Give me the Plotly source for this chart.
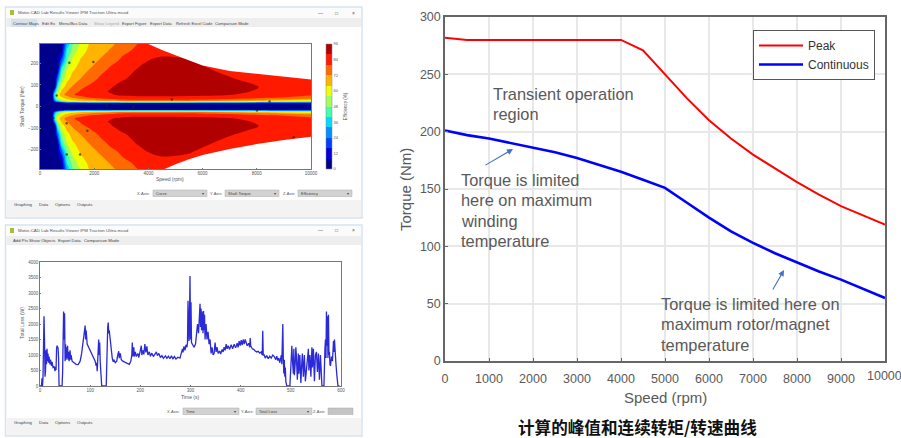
import plotly.graph_objects as go

W, H = 901, 438

# ---------- main chart data ----------
peak_speed = [0, 500, 1000, 2000, 3000, 4000, 4500, 5000, 5500, 6000, 6500, 7000, 7500, 8000, 8500, 9000, 9500, 10000]
peak_torque = [282, 280, 280, 280, 280, 280, 271, 250, 229, 210, 194, 180, 168, 156, 145, 135, 127, 119]
cont_speed = [0, 500, 1000, 1500, 2000, 2500, 3000, 3500, 4000, 4500, 5000, 5500, 6000, 6500, 7000, 7500, 8000, 8500, 9000, 9500, 10000]
cont_torque = [201, 197, 194, 190, 186, 182, 177, 171, 165, 158, 151, 138, 125, 113, 103, 94, 86, 78, 71, 63, 55]

# ---------- efficiency map data ----------
map_speed = [0, 450, 550, 650, 800, 1000, 1200, 1500, 1800, 2200, 2600, 3000, 3600, 4500, 5500, 6500, 7500, 8500, 10000]
map_torque = [0, 16, 21, 26, 32, 42, 55, 70, 90, 130, 170, 210, 235, 260, 290]
map_eff = [
    [2, 2, 2, 2, 2, 2, 2, 2, 2, 2, 2, 2, 2, 2, 2, 2, 2, 2, 2],
    [2, 3, 3, 3, 3, 3, 3, 3, 3, 3, 3, 3, 3, 3, 3, 3, 3, 3, 3],
    [2, 3, 10, 20, 30, 40, 45, 48, 50, 52, 54, 56, 57, 57, 56, 54, 50, 45, 40],
    [2, 3, 25, 40, 50, 56, 60, 63, 65, 68, 70, 72, 73, 73, 72, 71, 68, 63, 58],
    [2, 4, 35, 50, 58, 63, 67, 70, 72, 75, 78, 80, 81, 81, 80.5, 79, 77, 73, 68],
    [2, 6, 40, 56, 63, 69, 73, 77, 80, 83, 85, 86, 86.5, 86.5, 86, 85, 83, 81, 77],
    [2, 6, 45, 60, 69, 75, 79, 83, 85, 86.5, 87.5, 89, 90, 90, 90, 89.5, 87, 84, 81.5],
    [2, 5, 30, 54, 66, 72, 76, 81, 83.5, 86.5, 88.5, 90, 91, 92, 92, 91, 89, 85, 82],
    [2, 4, 8, 44, 60, 68, 73, 78, 81.5, 85, 87.5, 90, 91.5, 93, 93, 92, 90, 86.5, 83],
    [2, 3, 5, 24, 50, 61.5, 66.6, 72, 75, 81, 84, 87, 90, 92, 92, 90, 87, 84, 81],
    [2, 3, 5, 7, 42, 56, 63, 67, 72, 77, 81.5, 84.5, 88.5, 91, 91, 87.5, 84, 83, 81],
    [2, 3, 4, 6, 23, 48, 58, 65, 68, 73, 78, 81, 86, 91, 88.5, 85, 83, 82, 81],
    [2, 3, 4, 6, 13, 44, 55, 63, 66.6, 70.6, 75, 79.6, 84, 87.5, 87, 84, 83, 82, 81],
    [2, 3, 4, 5, 7, 41, 51, 60.6, 65.3, 69, 72.6, 77, 82, 86, 86, 84, 83, 82, 81],
    [2, 3, 4, 5, 6, 32, 47, 58, 64, 67, 70.5, 74, 80, 86, 86, 84, 83, 82, 81],
]
upper_env_speed = [4000, 4500, 5000, 6000, 7000, 8000, 9000, 10000]
upper_env_torque = [290, 262, 238, 190, 165, 152, 140, 125]
lower_env_speed = [4600, 5000, 5500, 6000, 7000, 8000, 9000, 10000]
lower_env_torque = [-290, -268, -245, -225, -197, -174, -155, -140]
dot_speed = [677, 1084, 1970, 616, 493, 985, 1749, 985, 1478, 2463, 3448, 4865, 8005, 8473, 9360]
dot_torque = [198, 203, 206, 51, -53, -78, -112, -223, -223, 5, -3, 33, -19, 23, -143]
band_colors = ["#00008c", "#0000dc", "#0040ff", "#0090ff", "#00dcff", "#40ffb0",
               "#a0ff60", "#f0ff00", "#ffb400", "#ff6a00", "#ff1a00", "#b00000"]

# ---------- loss trace data ----------
loss_trace = [
 (0,0),(3,0),(4,250),(5,0),(6,300),(7,1400),(8,2250),(9,1500),(10,300),(11,500),(12,1150),(13,700),(14,1200),(15,800),(16,1050),(17,750),(18,950),(20,700),(21,850),(23,650),(24,780),(26,600),(28,620),(30,480),(31,620),(32,520),(33,1200),(34,1300),(36,1220),(37,900),(38,0),(44,0),(45,400),(46,1400),(47,2400),(48,1500),(49,2350),(50,800),(51,1350),(52,850),(53,1250),(54,900),(55,1300),(56,850),(57,1100),(58,800),(60,1150),(61,850),(62,1000),(64,800),(68,750),(72,700),(76,690),(80,800),(83,1050),(86,1400),(88,1800),(90,1950),(91,1500),(92,1800),(94,1350),(96,1280),(100,1100),(103,1050),(106,900),(110,800),(112,650),(113,750),(114,480),(115,800),(117,1500),(118,1000),(119,1400),(120,800),(122,350),(123,0),(132,0),(133,900),(135,1900),(136,2050),(137,1700),(138,1800),(140,1500),(142,1100),(144,900),(146,780),(147,850),(150,750),(153,800),(155,1000),(157,1120),(158,900),(160,1050),(162,850),(165,800),(170,760),(175,720),(178,700),(181,800),(183,1000),(184,1400),(185,950),(187,1250),(188,950),(190,1100),(192,950),(195,1050),(197,920),(200,1150),(202,1300),(203,1000),(205,1150),(207,1020),(209,1350),(211,1080),(213,1280),(215,1000),(218,1100),(220,960),(223,1060),(226,950),(229,1020),(232,1100),(234,980),(237,1050),(240,920),(243,980),(246,890),(250,970),(253,890),(256,960),(259,880),(262,970),(265,880),(268,950),(271,870),(275,930),(279,900),(282,1050),(284,1200),(285,1080),(287,1280),(289,1150),(291,1330),(293,1250),(294,1400),(295,2750),(296,1500),(296.5,2600),(297,1450),(298,2200),(299,3550),(300,1500),(301,2700),(302,1400),(304,1350),(307,1250),(310,1350),(312,1800),(314,2000),(316,1700),(318,2600),(319,2650),(320,1900),(321,2500),(322,1800),(323,2400),(325,1700),(326,2420),(327,1800),(328,2300),(329,1500),(331,2000),(333,1500),(335,1750),(337,1350),(339,1500),(341,1050),(343,1250),(345,1000),(347,1050),(349,1400),(351,1100),(353,1250),(355,1050),(358,1130),(360,1030),(363,1180),(365,1100),(367,1250),(369,1150),(371,1350),(373,1200),(375,1300),(378,1180),(381,1330),(384,1200),(387,1350),(390,1230),(393,1380),(395,1250),(397,1450),(399,1300),(401,1480),(403,1320),(405,1500),(407,1350),(409,1500),(411,1350),(413,1300),(416,1380),(418,1250),(419,1550),(420,1300),(423,1200),(426,1180),(429,1130),(432,1100),(435,1120),(438,1060),(441,1100),(443,1000),(444,1780),(445,1000),(447,1000),(449,900),(452,980),(455,880),(458,960),(461,900),(464,1000),(467,950),(470,850),(472,960),(474,820),(476,900),(478,750),(480,950),(481,1000),(482,700),(483,1500),(484,2000),(485,900),(486,400),(487,850),(488,300),(489,600),(490,150),(492,0),(498,0),(500,600),(502,1300),(503,900),(505,400),(506,1200),(507,350),(509,800),(510,1250),(511,1000),(513,200),(515,1050),(516,400),(518,1000),(520,100),(522,800),(523,1050),(525,300),(527,1000),(529,150),(531,700),(533,850),(535,1200),(536,500),(538,1000),(540,300),(542,1250),(543,600),(545,1200),(547,150),(549,1000),(551,1100),(553,450),(555,1050),(557,200),(559,1000),(562,0),(566,0),(568,1200),(569,1500),(570,900),(571,2400),(572,1300),(573,2250),(574,900),(575,2300),(576,1000),(577,1100),(578,700),(579,650),(581,950),(583,800),(585,1450),(586,1100),(587,1500),(588,1000),(590,700),(592,300),(594,0),(597,0),
]
loss_time = [p[0] for p in loss_trace]
loss_watts = [p[1] for p in loss_trace]

# ---------- text data ----------
tabs_top = ["Contour Maps", "Edit Ex", "Menu/Bus Data", "Show Legend", "Export Figure", "Export Data", "Refresh Excel Code", "Comparison Mode"]
tabs_bottom = ["Add Pts", "Show Objects", "Export Data", "Comparison Mode"]
bottom_tabs = ["Graphing", "Data", "Options", "Outputs"]
window_title = "Motor-CAD Lab Results Viewer IPM Traction Ulitra.mcad"
note_transient = ["Transient operation", "region"]
note_winding = ["Torque is limited", "here on maximum", "winding", "temperature"]
note_magnet = ["Torque is limited here on", "maximum rotor/magnet", "temperature"]


def fx(p):
    return p / W


def fy(p):
    return 1 - p / H


def rect(x0, y0, x1, y1, fill, line=None, lw=1):
    return dict(type="rect", xref="paper", yref="paper", x0=fx(x0), x1=fx(x1), y0=fy(y1), y1=fy(y0),
                fillcolor=fill, line=dict(color=line or fill, width=lw if line else 0), layer="below")


def label(x, y, text, size=5, color="#555555", anchor="left", bold=False, font="Liberation Sans", angle=0):
    return dict(xref="paper", yref="paper", x=fx(x), y=fy(y), text=f"<b>{text}</b>" if bold else text,
                showarrow=False, xanchor=anchor, yanchor="middle", textangle=angle, borderpad=0,
                font=dict(size=size, color=color, family=font), align="left")


fig = go.Figure()

# efficiency map
full_torque = [-t for t in reversed(map_torque[1:])] + map_torque
full_eff = list(reversed(map_eff[1:])) + map_eff
n = len(band_colors)
scale = []
for i, c in enumerate(band_colors):
    scale += [[i / n, c], [(i + 1) / n, c]]
fig.add_trace(go.Contour(
    x=map_speed, y=full_torque, z=full_eff, xaxis="x", yaxis="y", zmin=0, zmax=96,
    colorscale=scale, autocontour=False,
    contours=dict(start=0, end=96, size=8, coloring="fill", showlines=False),
    line=dict(width=0), showscale=True,
    colorbar=dict(x=fx(326), xanchor="left", thickness=6, xpad=0, ypad=0,
                  y=fy(106.5), yanchor="middle", len=125 / H, lenmode="fraction",
                  tickvals=list(range(0, 97, 12)), ticks="", outlinewidth=0.5, outlinecolor="#888",
                  tickfont=dict(size=4, color="#555", family="Liberation Sans"),
                  title=dict(text="Efficiency (%)", side="right", font=dict(size=4.5, color="#555", family="Liberation Sans"))),
))
fig.add_trace(go.Scatter(
    x=upper_env_speed + [10000, 4000], y=upper_env_torque + [290, 290], xaxis="x", yaxis="y",
    mode="lines", fill="toself", fillcolor="white", line=dict(width=0), showlegend=False, hoverinfo="skip"))
fig.add_trace(go.Scatter(
    x=lower_env_speed + [10000, 4600], y=lower_env_torque + [-290, -290], xaxis="x", yaxis="y",
    mode="lines", fill="toself", fillcolor="white", line=dict(width=0), showlegend=False, hoverinfo="skip"))
fig.add_trace(go.Scatter(
    x=dot_speed, y=dot_torque, xaxis="x", yaxis="y", mode="markers",
    marker=dict(size=2.5, color="#222", opacity=0.7), showlegend=False, hoverinfo="skip"))

# loss trace
fig.add_trace(go.Scatter(
    x=loss_time, y=loss_watts, xaxis="x2", yaxis="y2", mode="lines",
    line=dict(color="#2a2ad8", width=1.3), showlegend=False))

# main chart
fig.add_trace(go.Scatter(x=peak_speed, y=peak_torque, xaxis="x3", yaxis="y3", mode="lines", name="Peak",
                         line=dict(color="#ff0000", width=2)))
fig.add_trace(go.Scatter(x=cont_speed, y=cont_torque, xaxis="x3", yaxis="y3", mode="lines", name="Continuous",
                         line=dict(color="#0000ff", width=2.6)))

small_axis = dict(showgrid=False, zeroline=False, showline=True, mirror=True, linecolor="#777", linewidth=0.8,
                  ticks="inside", ticklen=1.5, tickwidth=0.5, tickcolor="#777", automargin=False,
                  tickfont=dict(size=4.5, color="#555", family="Liberation Sans"))
main_axis = dict(showgrid=True, gridcolor="#e8e8e8", gridwidth=1.5, zeroline=False, showline=True, mirror=True,
                 linecolor="#666666", linewidth=1.5, ticks="inside", ticklen=3, tickwidth=1, tickcolor="#666666",
                 automargin=False, tickformat="d",
                 tickfont=dict(size=12.5, color="#595959", family="Liberation Sans"))

shapes = []
annos = []

# application windows
for top, bottom in [(7, 218), (225, 436)]:
    shapes.append(rect(5.5, top, 362, bottom, "#ffffff", "#d6e4ee", 1.5))
    shapes.append(rect(6.5, top + 1, 361, top + 11, "#fbfbfb"))
    shapes.append(rect(6.5, top + 11, 361, top + 20, "#eeeeee"))
    shapes.append(rect(6.5, bottom - 18, 361, bottom - 1, "#f3f3f3"))
    shapes.append(rect(10, top + 3, 14, top + 8, "#a9bf3c"))
    annos.append(label(17, top + 5.5, window_title, 4.4))
    annos.append(label(320, top + 5.5, "—", 5, anchor="center"))
    annos.append(label(336, top + 5.5, "□", 5, anchor="center"))
    annos.append(label(353, top + 5.5, "×", 5, anchor="center"))

# top-window tabs
shapes.append(rect(11, 19, 37, 27, "#d5e2ee"))
for x, t, c in zip([12, 41, 58, 93, 121, 149, 175, 214], tabs_top,
                   ["#444", "#444", "#444", "#aaa", "#444", "#444", "#444", "#444"]):
    annos.append(label(x, 23, t, 4.1, c))
for x, t in zip([12, 28, 57, 83], tabs_bottom):
    annos.append(label(x, 240, t, 4.3, "#444"))

# combos top
for x0, x1, lab, txt in [(153, 207, "X-Axis:", "Curve"), (225, 279, "Y-Axis:", "Shaft Torque"), (298, 352, "Z-Axis:", "Efficiency")]:
    shapes.append(rect(x0, 190, x1, 196.5, "#d2d2d2", "#aaaaaa", 0.5))
    annos.append(label(x0 - 2, 193, lab, 4, anchor="right"))
    annos.append(label(x0 + 2, 193, txt, 4, "#444"))
    annos.append(label(x1 - 2, 193, "▾", 4, "#444", anchor="right"))
# combos bottom
for x0, x1, lab, txt, fill in [(183, 239, "X-Axis:", "Time", "#d2d2d2"), (256, 312, "Y-Axis:", "Total Loss", "#d2d2d2"), (328, 353, "Z-Axis:", "", "#c4c4c4")]:
    shapes.append(rect(x0, 408, x1, 414.5, fill, "#aaaaaa", 0.5))
    annos.append(label(x0 - 2, 411, lab, 4, anchor="right"))
    if txt:
        annos.append(label(x0 + 2, 411, txt, 4, "#444"))
        annos.append(label(x1 - 2, 411, "▾", 4, "#444", anchor="right"))

# bottom tab strips
for y in [204, 422]:
    for x, t in zip([13, 38, 54, 76], bottom_tabs):
        annos.append(label(x, y, t, 4.4, "#444"))

# small axis titles
annos.append(label(170, 179, "Speed (rpm)", 5, anchor="center"))
annos.append(label(22, 107, "Shaft Torque (Nm)", 5, anchor="center", angle=-90))
annos.append(label(190, 397, "Time (s)", 5, anchor="center"))
annos.append(label(22, 323, "Total Loss (W)", 5, anchor="center", angle=-90))

# main-chart texts
annos.append(label(665, 397, "Speed (rpm)", 15, "#595959", "center"))
annos.append(label(405, 190, "Torque (Nm)", 15, "#595959", "center", angle=-90))
annos.append(label(884.5, 376, "10000", 12.5, "#595959", "center"))
for left, ys, lines in [(492, [94, 114], note_transient),
                        (460, [180, 200, 221, 241], note_winding),
                        (660, [304, 324, 345], note_magnet)]:
    for y, line in zip(ys, lines):
        annos.append(label(left, y, line, 16.4, "#595959"))
annos.append(label(637.5, 426.5, "计算的峰值和连续转矩/转速曲线", 16.6, "#111111", "center", True, "Noto Sans CJK SC"))

# arrows
for x0, y0, x1, y1 in [(484, 166, 513, 149), (772, 291, 784, 270)]:
    annos.append(dict(xref="paper", yref="paper", x=fx(x1), y=fy(y1), ax=x0 - x1, ay=y0 - y1, axref="pixel", ayref="pixel",
                      showarrow=True, text="", arrowhead=2, arrowsize=1.1, arrowwidth=1.1, arrowcolor="#4472c4"))

fig.update_layout(
    width=W, height=H, autosize=False, margin=dict(l=0, r=0, t=0, b=0),
    paper_bgcolor="white", plot_bgcolor="white", shapes=shapes, annotations=annos,
    font=dict(family="Liberation Sans"),
    xaxis=dict(small_axis, domain=[fx(40), fx(311)], range=[0, 10000], tickvals=[0, 2000, 4000, 6000, 8000, 10000], tickformat="d", anchor="y"),
    yaxis=dict(small_axis, domain=[fy(169), fy(44)], range=[-290, 290], tickvals=[-200, -100, 0, 100, 200], anchor="x"),
    xaxis2=dict(small_axis, domain=[fx(40), fx(341)], range=[0, 600], tickvals=[0, 100, 200, 300, 400, 500, 600], anchor="y2"),
    yaxis2=dict(small_axis, domain=[fy(386), fy(262)], range=[0, 4000], tickvals=list(range(0, 4001, 500)), tickformat="d", anchor="x2"),
    xaxis3=dict(main_axis, domain=[fx(445), fx(885)], range=[0, 10000], tickvals=list(range(0, 10001, 1000)), ticklabelstandoff=5, anchor="y3"),
    yaxis3=dict(main_axis, domain=[fy(361), fy(17)], range=[0, 300], tickvals=list(range(0, 301, 50)), anchor="x3"),
    showlegend=True,
    legend=dict(x=fx(753), y=fy(30), xanchor="left", yanchor="top", bgcolor="white", bordercolor="#555555", borderwidth=1,
                font=dict(size=12, color="#333333", family="Liberation Sans"), itemwidth=44, tracegroupgap=0),
)

fig.write_html("out.html", config={"displayModeBar": False},
               post_script="document.body.style.margin='0';document.body.style.overflow='hidden';")
